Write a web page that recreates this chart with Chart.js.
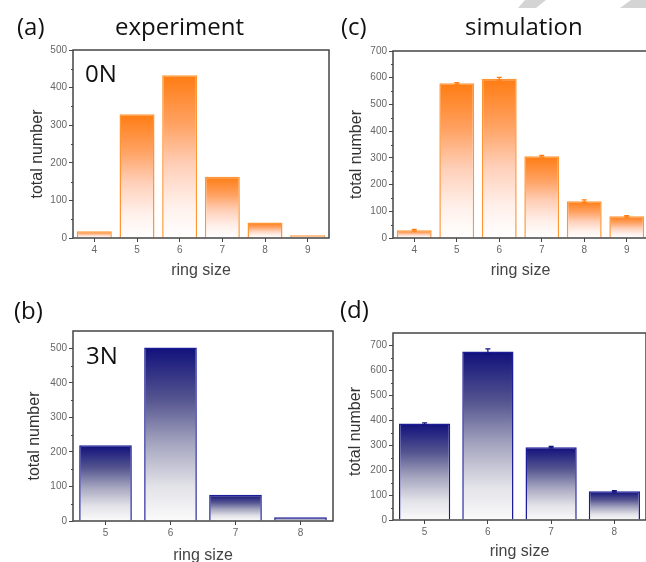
<!DOCTYPE html>
<html>
<head>
<meta charset="utf-8">
<script src="https://cdn.jsdelivr.net/npm/chart.js"></script>
<style>
  body { margin: 0; width: 646px; height: 562px; overflow: hidden; position: relative; background: #fff; }
  canvas { position: absolute; }
  .lbl { position: absolute; font-family: "Open Sans", sans-serif; font-size: 24px; line-height: 1; color: #111; white-space: nowrap; }
  .stripe { position: absolute; top: 0; height: 8px; background: #d4d4d4; }
</style>
</head>
<body>
<div class="stripe" style="left:518px;width:28px;clip-path:polygon(7px 0,28px 0,18px 8px,0 8px)"></div>
<div class="stripe" style="left:620px;width:30px;clip-path:polygon(11px 0,30px 0,30px 8px,0 8px)"></div>

<canvas id="chartA" width="340" height="300" style="left:0;top:0"></canvas>
<canvas id="chartC" width="330" height="300" style="left:323px;top:0"></canvas>
<canvas id="chartB" width="340" height="300" style="left:0;top:281px"></canvas>
<canvas id="chartD" width="330" height="300" style="left:323px;top:281px"></canvas>

<div class="lbl" style="left:17px;top:14px">(a)</div>
<div class="lbl" style="left:115px;top:14px">experiment</div>
<div class="lbl" style="left:341px;top:14px">(c)</div>
<div class="lbl" style="left:465px;top:14px">simulation</div>
<div class="lbl" style="left:14px;top:298px">(b)</div>
<div class="lbl" style="left:340px;top:297px">(d)</div>
<div class="lbl" style="left:85px;top:61px">0N</div>
<div class="lbl" style="left:86px;top:343px">3N</div>

<script>
// ring sizes and counts
const ringsZero = ["4", "5", "6", "7", "8", "9"];
const expZero = [18, 329, 433, 163, 41, 7];
const simZero = [29, 579, 596, 306, 138, 81];
const simZeroErr = [3, 3, 5, 3, 5, 3];

const ringsThree = ["5", "6", "7", "8"];
const expThree = [219, 502, 76, 11];
const simThree = [387, 676, 292, 115];
const simThreeErr = [3, 10, 3, 3];

// gradient stops, top of bar -> axis
const orange = {
  stops: [[0, "#ff7c12"], [0.3, "#ffa263"], [0.55, "#ffcfb8"], [0.8, "#fff0ea"], [1, "#ffffff"]],
  edge: "#ff9633", err: "#ff7c12",
};
const navy = {
  stops: [[0, "#10107c"], [0.3, "#555590"], [0.55, "#a4a4bf"], [0.8, "#e2e2e8"], [1, "#fbfbfb"]],
  edge: "#1c1c98", err: "#12127c",
};

const frame = {
  id: "frame",
  afterDatasetsDraw(chart, args, opts) {
    const { ctx, chartArea: a, scales: { x, y } } = chart;
    const values = chart.data.datasets[0].data;
    ctx.save();
    // error bars
    if (opts.errors) {
      ctx.strokeStyle = opts.err;
      ctx.lineWidth = 1.2;
      opts.errors.forEach((e, i) => {
        const px = x.getPixelForValue(i);
        const hi = y.getPixelForValue(values[i] + e);
        const lo = y.getPixelForValue(values[i] - e);
        ctx.beginPath();
        ctx.moveTo(px, lo); ctx.lineTo(px, hi);
        ctx.moveTo(px - 2.5, hi); ctx.lineTo(px + 2.5, hi);
        ctx.moveTo(px - 2.5, lo); ctx.lineTo(px + 2.5, lo);
        ctx.stroke();
      });
    }
    // box round the plot
    ctx.strokeStyle = "#444";
    ctx.lineWidth = 1.5;
    ctx.strokeRect(a.left, a.top, a.right - a.left, a.bottom - a.top);
    // minor ticks
    ctx.lineWidth = 1;
    for (let v = 50; v < y.max; v += 100) {
      const py = Math.round(y.getPixelForValue(v)) + 0.5;
      ctx.beginPath();
      ctx.moveTo(a.left - 2, py); ctx.lineTo(a.left, py);
      ctx.stroke();
    }
    // y title
    ctx.fillStyle = "#333";
    ctx.font = "16px 'Liberation Sans', Arial, sans-serif";
    ctx.textAlign = "center";
    ctx.textBaseline = "middle";
    ctx.translate(opts.titleX, (a.top + a.bottom) / 2 + opts.titleDy);
    ctx.rotate(-Math.PI / 2);
    ctx.fillText("total number", 0, 0);
    ctx.restore();
  }
};

function makeChart(id, labels, values, errors, p) {
  const col = p.colors;
  return new Chart(document.getElementById(id), {
    type: "bar",
    data: {
      labels: labels,
      datasets: [{
        data: values,
        backgroundColor: (c) => {
          const ch = c.chart;
          if (!ch.chartArea || c.type !== "data") return col.stops[0][1];
          const yt = ch.scales.y.getPixelForValue(c.raw);
          const yb = ch.scales.y.getPixelForValue(0);
          const g = ch.ctx.createLinearGradient(0, yt, 0, yb);
          col.stops.forEach(([o, s]) => g.addColorStop(o, s));
          return g;
        },
        borderColor: col.edge,
        borderWidth: 1.5,
        borderSkipped: "start",
        barPercentage: p.bar,
        categoryPercentage: 1,
      }],
    },
    options: {
      responsive: false,
      animation: false,
      layout: { padding: { top: p.top, right: p.right, left: 0, bottom: 0 } },
      scales: {
        x: {
          afterFit: (s) => { s.height = p.xh; },
          grid: { offset: false, drawOnChartArea: false, tickLength: 4, color: "#444" },
          border: { display: false },
          ticks: { padding: 2, color: "#666", font: { size: 10, family: "'Liberation Sans', Arial" } },
          title: {
            display: true,
            text: "ring size",
            color: "#444",
            padding: { top: 0, bottom: p.xtPad },
            font: { size: 16, family: "'Liberation Sans', Arial" },
          },
        },
        y: {
          min: 0,
          max: p.max,
          afterFit: (s) => { s.width = p.yw; },
          grid: {
            drawOnChartArea: false,
            tickLength: 4,
            tickColor: (c) => (c.tick && c.tick.value % 100 ? "rgba(0,0,0,0)" : "#444"),
          },
          border: { display: false },
          ticks: {
            stepSize: 100,
            padding: 2,
            color: "#666",
            font: { size: 10, family: "'Liberation Sans', Arial" },
            callback: (v) => (v % 100 ? "" : v),
          },
        },
      },
      plugins: {
        legend: { display: false },
        tooltip: { enabled: false },
        frame: { errors: errors, err: col.err, titleX: p.titleX, titleDy: p.titleDy },
      },
    },
    plugins: [frame],
  });
}

makeChart("chartA", ringsZero, expZero, null,
  { colors: orange, max: 500, top: 50, right: 11, yw: 73, xh: 62, xtPad: 20, bar: 0.82, titleX: 38, titleDy: 10 });
makeChart("chartC", ringsZero, simZero, simZeroErr,
  { colors: orange, max: 700, top: 51, right: 5, yw: 70, xh: 62, xtPad: 20, bar: 0.82, titleX: 34, titleDy: 10 });
makeChart("chartB", ringsThree, expThree, null,
  { colors: navy, max: 550, top: 50, right: 7, yw: 73, xh: 60, xtPad: 16, bar: 0.81, titleX: 35, titleDy: 10 });
makeChart("chartD", ringsThree, simThree, simThreeErr,
  { colors: navy, max: 750, top: 52, right: 7, yw: 70, xh: 61, xtPad: 20, bar: 0.81, titleX: 33, titleDy: 5 });
</script>
</body>
</html>
